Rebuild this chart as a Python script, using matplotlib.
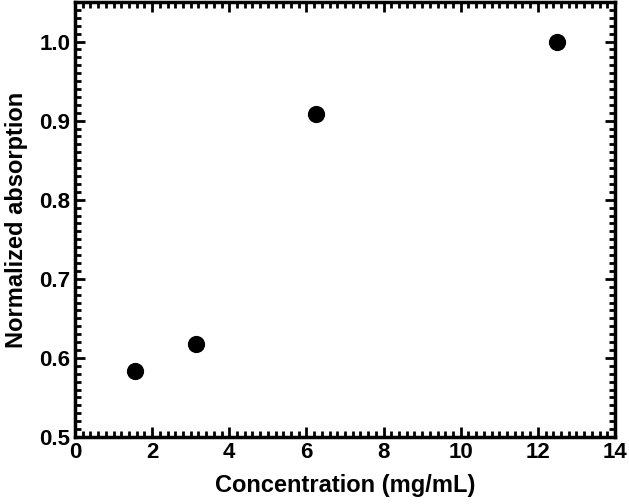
import matplotlib
matplotlib.use("Agg")
import matplotlib.pyplot as plt
from matplotlib.ticker import MultipleLocator

conc = [1.5625, 3.125, 6.25, 12.5]
absorption = [0.583, 0.617, 0.908, 1.0]

plt.rcParams['font.family'] = 'Liberation Sans'
plt.rcParams['font.weight'] = 'bold'
fig = plt.figure(figsize=(6.29, 5.04), dpi=100)
ax = fig.add_axes([75/629, 1-437/504, 540/629, 435/504])
ax.scatter(conc, absorption, s=130, color='black', zorder=3)
ax.set_xlim(0, 14)
ax.set_ylim(0.5, 1.05)
ax.xaxis.set_major_locator(MultipleLocator(2))
ax.xaxis.set_minor_locator(MultipleLocator(0.2))
ax.yaxis.set_major_locator(MultipleLocator(0.1))
ax.yaxis.set_minor_locator(MultipleLocator(0.01))
ax.tick_params(which='both', direction='in', top=True, right=True, width=2, labelsize=16)
ax.tick_params(which='major', length=7)
ax.tick_params(which='minor', length=4)
for s in ax.spines.values():
    s.set_linewidth(2.5)
ax.set_xlabel('Concentration (mg/mL)', fontsize=17, fontweight='bold', labelpad=8)
ax.set_ylabel('Normalized absorption', fontsize=17, fontweight='bold', labelpad=8)
fig.savefig('out.png', dpi=100)
